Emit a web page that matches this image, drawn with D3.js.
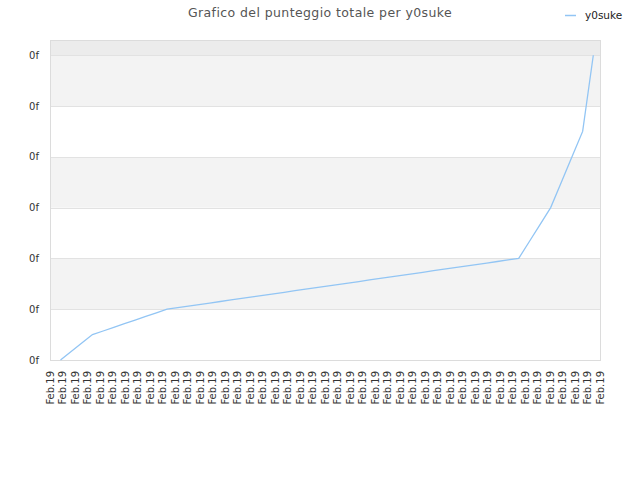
<!DOCTYPE html>
<html>
<head>
<meta charset="utf-8">
<style>
  html, body { margin: 0; padding: 0; background: #fff; }
  svg text { font-family: "DejaVu Sans", sans-serif; }
</style>
<script src="https://cdn.jsdelivr.net/npm/d3@7"></script>
</head>
<body>
<script>
// Chart data
const title = 'Grafico del punteggio totale per y0suke'
const seriesName = 'y0suke'
// x-axis tick labels (all the same month label)
const xLabels = d3.range(45).map(() => 'Feb.19')
// cumulative score, one value per day
const scores = [
  0, 0.167, 0.333, 0.5, 0.571, 0.643, 0.714, 0.786, 0.857, 0.929,
  1.0, 1.030, 1.061, 1.091, 1.121, 1.152, 1.182, 1.212, 1.242, 1.273,
  1.303, 1.333, 1.364, 1.394, 1.424, 1.455, 1.485, 1.515, 1.545, 1.576,
  1.606, 1.636, 1.667, 1.697, 1.727, 1.758, 1.788, 1.818, 1.848, 1.879,
  1.909, 1.939, 1.970, 2.0, 2.333, 2.667, 3.0, 3.5, 4.0, 4.5,
  6.0
]
const yTicks = [0, 1, 2, 3, 4, 5, 6]
const yTickLabel = '0f'

const W = 640, H = 480
const plot = { left: 50, right: 600, top: 40, bottom: 360 }

let svg = d3.select('body').append('svg')
  .attr('width', W)
  .attr('height', H)

let y = d3.scaleLinear()
  .domain([0, 6.3])
  .range([plot.bottom, plot.top])

let xLab = d3.scalePoint()
  .domain(d3.range(xLabels.length))
  .range([plot.left, plot.right])

let x = d3.scalePoint()
  .domain(d3.range(scores.length))
  .range([60.5, 593.3])

// background bands
svg.append('rect')
  .attr('x', plot.left).attr('y', plot.top)
  .attr('width', plot.right - plot.left)
  .attr('height', y(6) - plot.top)
  .attr('fill', '#ececec')
svg.append('g')
  .selectAll('rect')
  .data(yTicks.slice(0, -1))
  .join('rect')
  .attr('x', plot.left)
  .attr('y', d => y(d + 1))
  .attr('width', plot.right - plot.left)
  .attr('height', d => y(d) - y(d + 1))
  .attr('fill', d => (5 - d) % 2 == 0 ? '#f3f3f3' : '#ffffff')

// grid lines
svg.append('g')
  .selectAll('line')
  .data(yTicks)
  .join('line')
  .attr('x1', plot.left).attr('x2', plot.right)
  .attr('y1', d => Math.round(y(d)) + 0.5)
  .attr('y2', d => Math.round(y(d)) + 0.5)
  .attr('stroke', '#e2e2e2')

// plot border
svg.append('rect')
  .attr('x', plot.left + 0.5).attr('y', plot.top + 0.5)
  .attr('width', plot.right - plot.left)
  .attr('height', plot.bottom - plot.top)
  .attr('fill', 'none')
  .attr('stroke', '#dcdcdc')

// y tick labels
svg.append('g')
  .selectAll('text')
  .data(yTicks)
  .join('text')
  .attr('x', 39)
  .attr('y', d => y(d))
  .attr('dy', '0.35em')
  .attr('text-anchor', 'end')
  .attr('font-size', 10)
  .attr('fill', '#333')
  .text(yTickLabel)

// x tick labels
svg.append('g')
  .selectAll('text')
  .data(xLabels)
  .join('text')
  .attr('transform', (d, i) => `translate(${xLab(i) + 3.5},371) rotate(-90)`)
  .attr('text-anchor', 'end')
  .attr('font-size', 10)
  .attr('fill', '#333')
  .text(d => d)

// series line
svg.append('path')
  .datum(scores)
  .attr('fill', 'none')
  .attr('stroke', '#92c5f4')
  .attr('stroke-width', 1.3)
  .attr('d', d3.line().x((d, i) => x(i)).y(d => y(d)))

// title
svg.append('text')
  .attr('x', 320)
  .attr('y', 17)
  .attr('text-anchor', 'middle')
  .attr('font-size', 12.5)
  .attr('fill', '#555')
  .attr('letter-spacing', 0.4)
  .text(title)

// legend
svg.append('line')
  .attr('x1', 565).attr('x2', 576)
  .attr('y1', 15.5).attr('y2', 15.5)
  .attr('stroke', '#92c5f4')
  .attr('stroke-width', 1.5)
svg.append('text')
  .attr('x', 585)
  .attr('y', 18.5)
  .attr('font-size', 10.5)
  .attr('fill', '#222')
  .text(seriesName)
</script>
</body>
</html>
